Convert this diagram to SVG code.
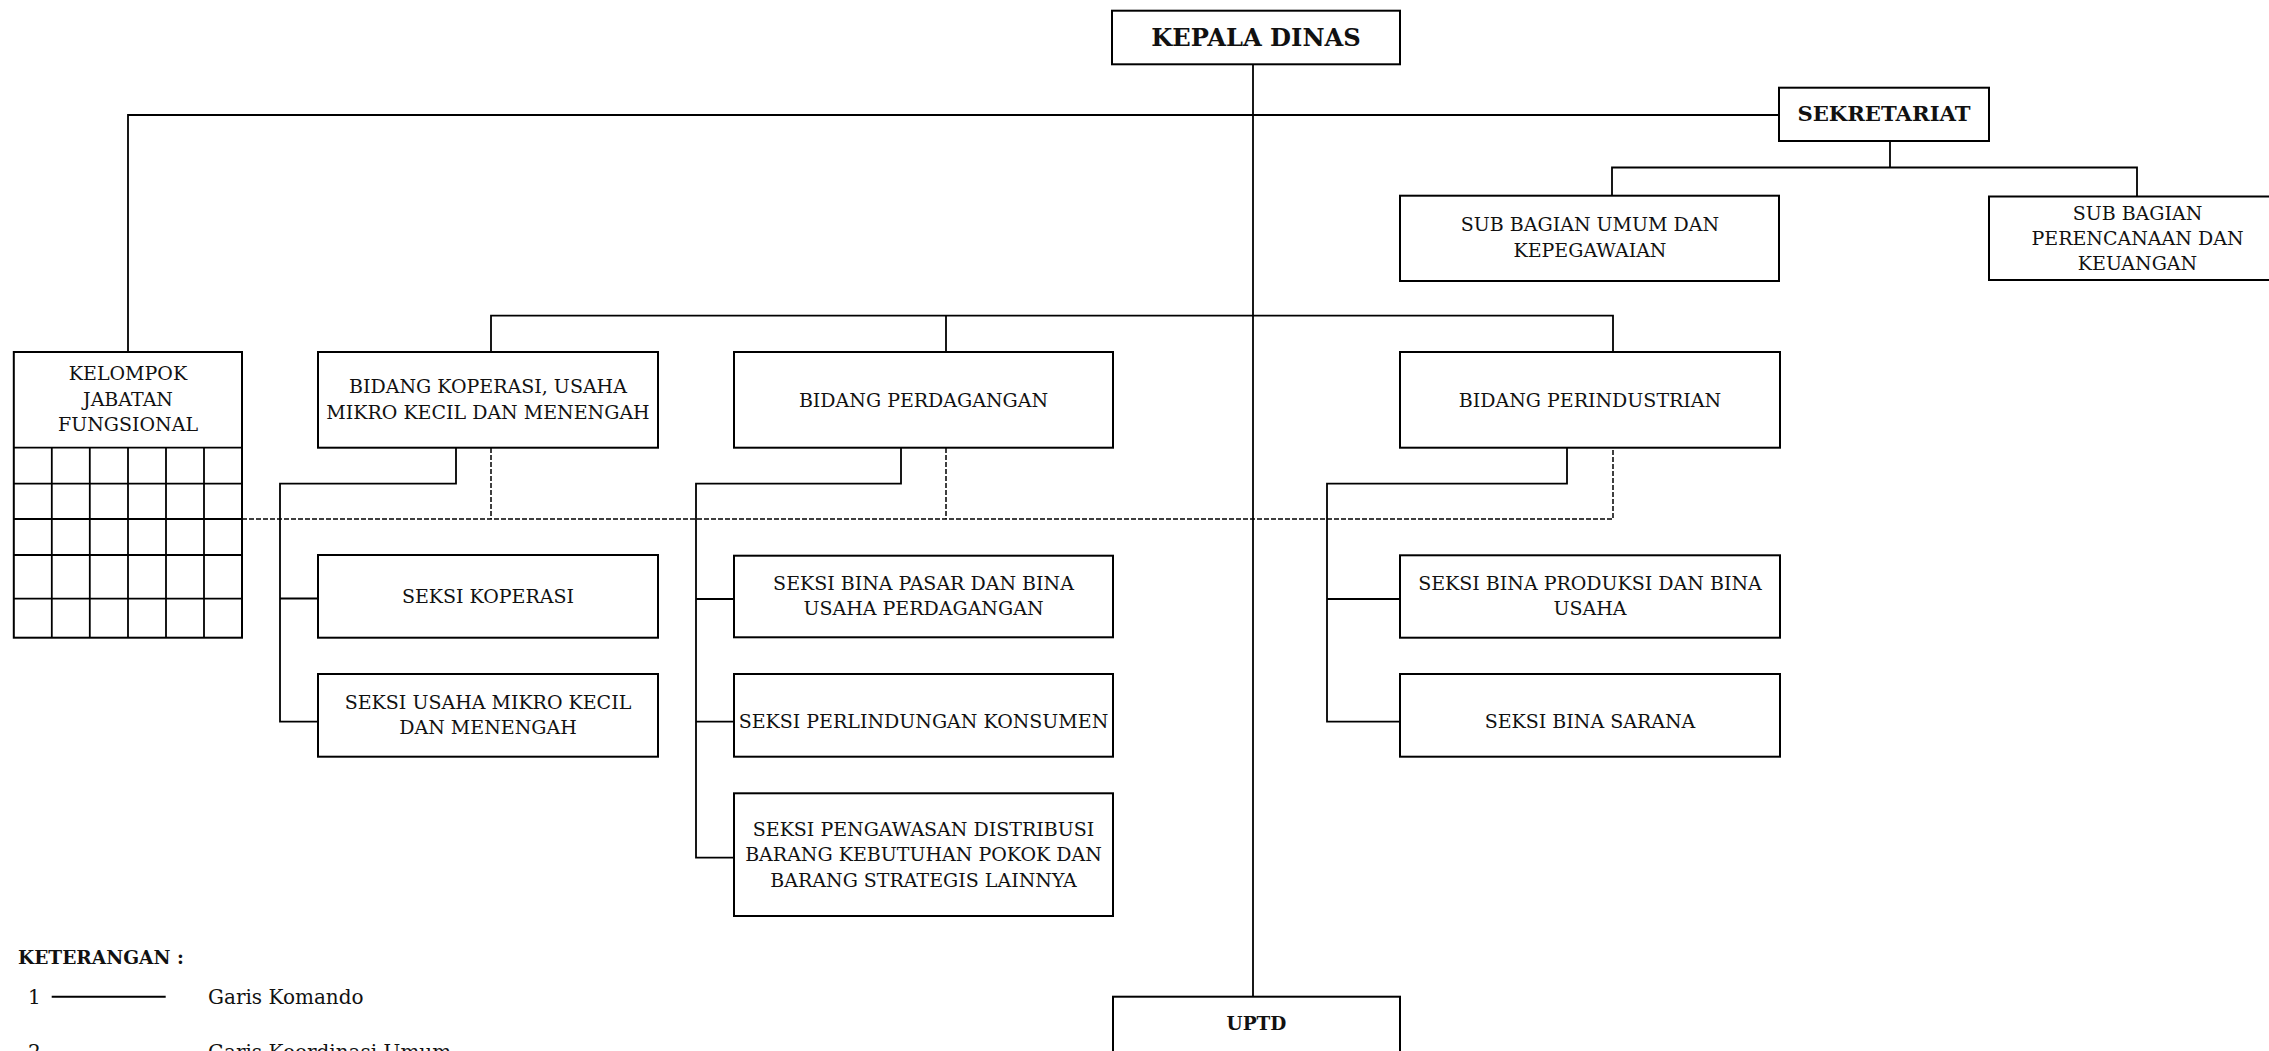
<svg xmlns="http://www.w3.org/2000/svg" width="2269" height="1051" viewBox="0 0 2269 1051">
<style>
  .box { fill: #fff; stroke: #000; stroke-width: 2; }
  .ln { fill: none; stroke: #000; stroke-width: 1.8; }
  .dash { fill: none; stroke: #000; stroke-width: 1.5; stroke-dasharray: 5 2; }
  text { font-family: "DejaVu Serif", "Liberation Serif", serif; fill: #111; }
  .t { font-size: 19px; text-anchor: middle; }
  .b { font-weight: bold; text-anchor: middle; }
  .lg { font-size: 20px; }
</style>
<rect width="2269" height="1051" fill="#fff"/>

<g id="connectors">
  <!-- command lines -->
  <line class="ln" x1="1253" y1="64" x2="1253" y2="997"/>
  <polyline class="ln" points="1779,115 128,115 128,352"/>
  <polyline class="ln" points="1890,141 1890,167.5"/>
  <polyline class="ln" points="1612,196 1612,167.5 2137,167.5 2137,196"/>
  <polyline class="ln" points="491,352 491,315.7 1613,315.7 1613,352"/>
  <line class="ln" x1="946" y1="315.7" x2="946" y2="352"/>
  <!-- Koperasi -->
  <polyline class="ln" points="456,448 456,483.7 280,483.7 280,721.7 318,721.7"/>
  <line class="ln" x1="280" y1="598.5" x2="318" y2="598.5"/>
  <!-- Perdagangan -->
  <polyline class="ln" points="901,448 901,483.7 696,483.7 696,857.7 734,857.7"/>
  <line class="ln" x1="696" y1="599" x2="734" y2="599"/>
  <line class="ln" x1="696" y1="721.7" x2="734" y2="721.7"/>
  <!-- Perindustrian -->
  <polyline class="ln" points="1567,448 1567,483.7 1327,483.7 1327,721.7 1400,721.7"/>
  <line class="ln" x1="1327" y1="599" x2="1400" y2="599"/>
  <!-- coordination dashed -->
  <polyline class="dash" points="242,519 1613,519 1613,448"/>
  <line class="dash" x1="491" y1="448" x2="491" y2="519"/>
  <line class="dash" x1="946" y1="448" x2="946" y2="519"/>
</g>

<g id="kepala-dinas">
  <rect class="box" x="1112" y="10.7" width="288" height="53.6"/>
  <text class="b" x="1256" y="45.8" font-size="24.2">KEPALA DINAS</text>
</g>

<g id="sekretariat">
  <rect class="box" x="1779" y="87.7" width="210" height="53.3"/>
  <text class="b" x="1884" y="120.8" font-size="21.2">SEKRETARIAT</text>
</g>

<g id="subbag-umum">
  <rect class="box" x="1400" y="195.7" width="379" height="85.3"/>
  <text class="t" x="1590" y="230.5">SUB BAGIAN UMUM DAN</text>
  <text class="t" x="1590" y="256.5">KEPEGAWAIAN</text>
</g>

<g id="subbag-perencanaan">
  <rect class="box" x="1989" y="196.5" width="380" height="83.5"/>
  <text class="t" x="2137.5" y="219.5">SUB BAGIAN</text>
  <text class="t" x="2137.5" y="244.5">PERENCANAAN DAN</text>
  <text class="t" x="2137.5" y="269.5">KEUANGAN</text>
</g>

<g id="kelompok-jabatan-fungsional">
  <rect class="box" x="13.8" y="352" width="228.2" height="285.7"/>
  <line class="ln" x1="13.8" y1="447.7" x2="242" y2="447.7"/>
  <g class="ln">
    <line x1="13.8" y1="483.7" x2="242" y2="483.7"/>
    <line x1="13.8" y1="519" x2="242" y2="519"/>
    <line x1="13.8" y1="555" x2="242" y2="555"/>
    <line x1="13.8" y1="598.7" x2="242" y2="598.7"/>
    <line x1="51.8" y1="447.7" x2="51.8" y2="637.7"/>
    <line x1="89.8" y1="447.7" x2="89.8" y2="637.7"/>
    <line x1="128" y1="447.7" x2="128" y2="637.7"/>
    <line x1="166" y1="447.7" x2="166" y2="637.7"/>
    <line x1="204" y1="447.7" x2="204" y2="637.7"/>
  </g>
  <text class="t" x="128" y="380">KELOMPOK</text>
  <text class="t" x="128" y="405.5">JABATAN</text>
  <text class="t" x="128" y="431">FUNGSIONAL</text>
</g>

<g id="bidang-koperasi">
  <rect class="box" x="318" y="352" width="340" height="95.7"/>
  <text class="t" x="488" y="393.3">BIDANG KOPERASI, USAHA</text>
  <text class="t" x="488" y="419">MIKRO KECIL DAN MENENGAH</text>
</g>

<g id="bidang-perdagangan">
  <rect class="box" x="734" y="352" width="379" height="95.7"/>
  <text class="t" x="923.5" y="406.7">BIDANG PERDAGANGAN</text>
</g>

<g id="bidang-perindustrian">
  <rect class="box" x="1400" y="352" width="380" height="95.7"/>
  <text class="t" x="1590" y="406.7">BIDANG PERINDUSTRIAN</text>
</g>

<g id="seksi-koperasi">
  <rect class="box" x="318" y="555" width="340" height="82.7"/>
  <text class="t" x="488" y="602.7">SEKSI KOPERASI</text>
</g>

<g id="seksi-umkm">
  <rect class="box" x="318" y="674" width="340" height="82.7"/>
  <text class="t" x="488" y="709.3">SEKSI USAHA MIKRO KECIL</text>
  <text class="t" x="488" y="734">DAN MENENGAH</text>
</g>

<g id="seksi-bina-pasar">
  <rect class="box" x="734" y="555.7" width="379" height="81.6"/>
  <text class="t" x="923.5" y="590">SEKSI BINA PASAR DAN BINA</text>
  <text class="t" x="923.5" y="615">USAHA PERDAGANGAN</text>
</g>

<g id="seksi-perlindungan-konsumen">
  <rect class="box" x="734" y="674" width="379" height="82.7"/>
  <text class="t" x="923.5" y="728">SEKSI PERLINDUNGAN KONSUMEN</text>
</g>

<g id="seksi-pengawasan-distribusi">
  <rect class="box" x="734" y="793.3" width="379" height="122.7"/>
  <text class="t" x="923.5" y="835.7">SEKSI PENGAWASAN DISTRIBUSI</text>
  <text class="t" x="923.5" y="861">BARANG KEBUTUHAN POKOK DAN</text>
  <text class="t" x="923.5" y="886.5">BARANG STRATEGIS LAINNYA</text>
</g>

<g id="seksi-bina-produksi">
  <rect class="box" x="1400" y="555.3" width="380" height="82.4"/>
  <text class="t" x="1590" y="590">SEKSI BINA PRODUKSI DAN BINA</text>
  <text class="t" x="1590" y="615">USAHA</text>
</g>

<g id="seksi-bina-sarana">
  <rect class="box" x="1400" y="674" width="380" height="82.7"/>
  <text class="t" x="1590" y="728">SEKSI BINA SARANA</text>
</g>

<g id="uptd">
  <rect class="box" x="1113" y="996.7" width="287" height="80"/>
  <text class="b" x="1256.5" y="1030" font-size="18.5">UPTD</text>
</g>

<g id="keterangan">
  <text x="18" y="964.3" font-size="18.6" font-weight="bold">KETERANGAN :</text>
  <text class="lg" x="28" y="1004">1</text>
  <line x1="51.7" y1="996.7" x2="165.7" y2="996.7" stroke="#000" stroke-width="2"/>
  <text class="lg" x="208" y="1004">Garis Komando</text>
  <text class="lg" x="28" y="1059">2</text>
  <text class="lg" x="208" y="1059">Garis Koordinasi Umum</text>
</g>
</svg>
